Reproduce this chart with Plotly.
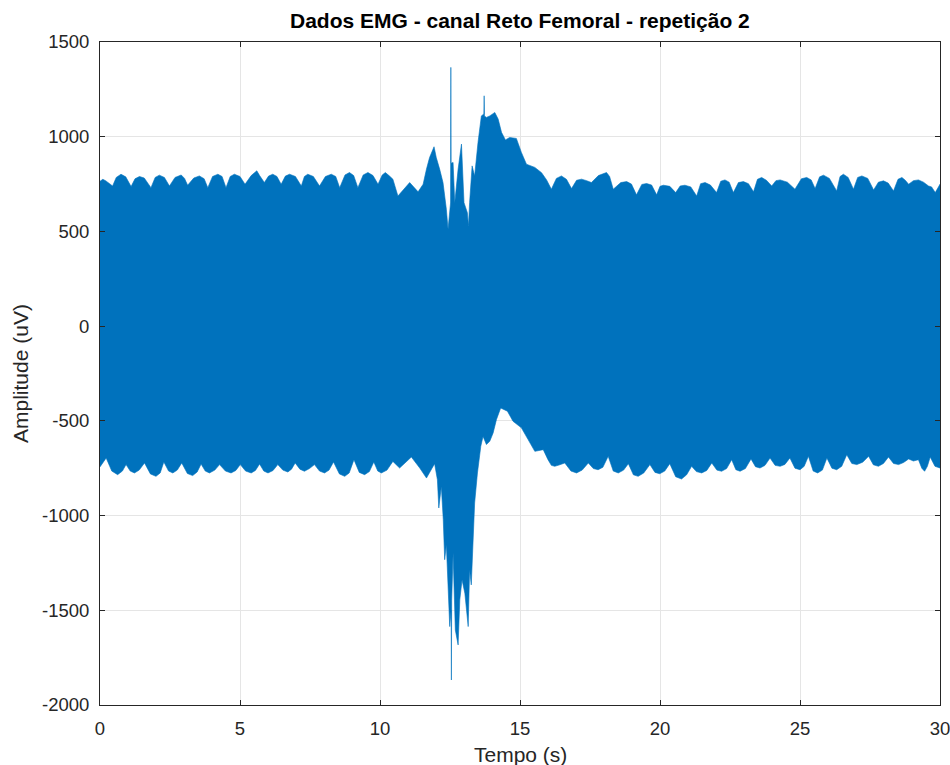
import plotly.graph_objects as go

# Upper envelope of the EMG trace (time in s, amplitude in uV)
upper_t = [0.00, 0.10, 0.20, 0.45, 0.58, 0.75, 0.92, 1.11, 1.25, 1.41, 1.58, 1.82, 1.97, 2.12, 2.30,
           2.48, 2.68, 2.90, 3.02, 3.13, 3.35, 3.55, 3.72, 3.85, 4.02, 4.21, 4.36, 4.50, 4.65, 4.80,
           5.00, 5.18, 5.40, 5.60, 5.70, 5.87, 6.02, 6.17, 6.32, 6.47, 6.62, 6.77, 6.98, 7.19, 7.30,
           7.42, 7.62, 7.84, 8.05, 8.26, 8.42, 8.56, 8.75, 8.91, 9.06, 9.21, 9.40, 9.57, 9.75, 9.93,
           10.08, 10.19, 10.32, 10.46, 10.64, 10.76, 11.06, 11.36, 11.54, 11.66, 11.77, 11.93, 12.01,
           12.13, 12.25, 12.37, 12.43, 12.52, 12.53, 12.54, 12.61, 12.67, 12.79, 12.91, 13.00, 13.12,
           13.16, 13.20, 13.29, 13.38, 13.50, 13.62, 13.71, 13.72, 13.73, 13.80, 13.92, 14.10, 14.22,
           14.34, 14.48, 14.63, 14.87, 15.05, 15.23, 15.53, 15.77, 15.95, 16.12, 16.30, 16.48, 16.66,
           16.84, 17.02, 17.20, 17.38, 17.55, 17.80, 18.09, 18.20, 18.33, 18.60, 18.81, 18.98, 19.16,
           19.35, 19.52, 19.70, 19.88, 20.00, 20.12, 20.35, 20.56, 20.72, 20.89, 21.10, 21.31, 21.45,
           21.61, 21.80, 22.02, 22.17, 22.32, 22.47, 22.62, 22.80, 22.98, 23.16, 23.34, 23.48, 23.63,
           23.80, 23.99, 24.14, 24.29, 24.55, 24.82, 25.05, 25.24, 25.40, 25.54, 25.70, 25.84, 26.05,
           26.31, 26.43, 26.55, 26.72, 26.91, 27.06, 27.21, 27.42, 27.63, 27.80, 27.98, 28.15, 28.34,
           28.50, 28.64, 28.76, 28.88, 29.05, 29.23, 29.41, 29.59, 29.70, 29.83, 30.00]
upper_v = [765, 775, 768, 740, 785, 802, 788, 737, 778, 790, 782, 731, 785, 797, 785,
           740, 785, 798, 780, 744, 782, 793, 778, 731, 790, 802, 790, 731, 790, 802,
           790, 749, 795, 820, 795, 758, 792, 802, 790, 749, 792, 802, 790, 740, 790,
           802, 790, 740, 790, 802, 790, 731, 798, 811, 795, 731, 798, 811, 795, 749,
           798, 811, 795, 776, 687, 709, 758, 709, 749, 829, 890, 947, 890,
           829, 758, 617, 511, 650, 1366, 860, 864, 652, 829, 961, 652, 599,
           529, 652, 846, 793, 970, 1110, 1120, 1216, 1110, 1102, 1110, 1128, 1093,
           1023, 983, 996, 991, 917, 855, 838, 810, 772, 723, 780, 793, 775,
           726, 770, 776, 768, 758, 795, 811, 790, 723, 758, 763, 750, 693,
           748, 753, 745, 693, 738, 744, 738, 705, 740, 744, 735, 687, 752,
           758, 745, 705, 765, 772, 760, 705, 758, 763, 752, 709, 775, 785,
           770, 740, 768, 772, 760, 723, 778, 785, 772, 726, 788, 797, 780,
           714, 790, 802, 785, 723, 785, 793, 780, 719, 760, 767, 755, 714,
           775, 785, 770, 749, 768, 772, 760, 740, 735, 705, 749]

# Lower envelope of the EMG trace
lower_t = [0.00, 0.22, 0.42, 0.63, 0.80, 0.93, 1.08, 1.23, 1.40, 1.59, 1.80, 2.00, 2.15, 2.28, 2.45,
           2.60, 2.76, 2.92, 3.12, 3.31, 3.47, 3.61, 3.76, 3.91, 4.10, 4.27, 4.48, 4.68, 4.85, 5.01,
           5.20, 5.40, 5.55, 5.70, 5.85, 6.00, 6.18, 6.35, 6.53, 6.71, 6.84, 6.97, 7.14, 7.30, 7.48,
           7.66, 7.84, 8.02, 8.18, 8.34, 8.55, 8.74, 8.90, 9.07, 9.26, 9.45, 9.62, 9.78, 9.92, 10.05,
           10.25, 10.46, 10.70, 11.12, 11.42, 11.66, 11.95, 12.05, 12.10, 12.19, 12.26, 12.31, 12.37,
           12.43, 12.49, 12.54, 12.55, 12.56, 12.61, 12.69, 12.79, 12.85, 12.93, 13.03, 13.15, 13.20,
           13.26, 13.33, 13.38, 13.48, 13.60, 13.68, 13.80, 13.92, 14.04, 14.16, 14.31, 14.55, 14.75,
           15.05, 15.29, 15.53, 15.83, 16.00, 16.12, 16.24, 16.42, 16.60, 16.82, 17.02, 17.22, 17.44,
           17.62, 17.79, 17.96, 18.15, 18.33, 18.51, 18.70, 18.87, 19.05, 19.22, 19.42, 19.64, 19.82,
           19.99, 20.17, 20.35, 20.56, 20.77, 20.95, 21.13, 21.30, 21.49, 21.67, 21.85, 22.03, 22.20,
           22.38, 22.56, 22.71, 22.86, 23.05, 23.25, 23.41, 23.57, 23.75, 23.93, 24.11, 24.29, 24.46,
           24.64, 24.82, 25.00, 25.15, 25.30, 25.47, 25.63, 25.80, 25.96, 26.14, 26.31, 26.49, 26.67,
           26.85, 27.03, 27.24, 27.45, 27.62, 27.80, 27.98, 28.16, 28.34, 28.52, 28.70, 28.88, 29.05,
           29.23, 29.35, 29.45, 29.55, 29.65, 29.82, 30.00]
lower_v = [-743, -696, -765, -784, -765, -731, -765, -775, -760, -722, -780, -793, -775, -717, -765,
           -775, -760, -722, -778, -789, -770, -728, -765, -775, -760, -731, -765, -775, -762, -731,
           -765, -775, -762, -728, -765, -775, -762, -731, -760, -770, -755, -722, -755, -766, -752,
           -731, -765, -775, -760, -717, -780, -793, -775, -705, -772, -784, -768, -717, -765, -775,
           -760, -714, -749, -691, -749, -802, -726, -811, -960, -846, -1022, -1233, -1154,
           -1375, -1586, -1500, -1868, -1450, -1198, -1604, -1683, -1445, -1339, -1410, -1586, -1286,
           -1366, -1092, -934, -775, -634, -582, -625, -608, -564, -493, -432, -449, -502,
           -537, -599, -661, -652, -705, -735, -740, -732, -722, -765, -775, -760, -722,
           -752, -758, -745, -687, -765, -775, -760, -726, -785, -793, -775, -731, -772,
           -779, -765, -726, -795, -807, -785, -740, -768, -775, -762, -722, -760, -766,
           -752, -705, -758, -766, -752, -701, -742, -749, -735, -696, -735, -740, -730,
           -696, -750, -758, -740, -687, -765, -775, -760, -696, -750, -758, -740, -679,
           -725, -731, -718, -687, -732, -740, -725, -691, -725, -731, -720, -701, -712,
           -705, -750, -766, -740, -691, -740, -749]

x_ticks = [0, 5, 10, 15, 20, 25, 30]
x_tick_text = ["0", "5", "10", "15", "20", "25", "30"]
y_ticks = [-2000, -1500, -1000, -500, 0, 500, 1000, 1500]
y_tick_text = ["-2000", "-1500", "-1000", "-500", "0", "500", "1000", "1500"]

blue = "#0072BD"
ink = "#262626"
font = "Liberation Sans, Arial, Helvetica, sans-serif"

# Closed band between the two envelopes
band_t = upper_t + lower_t[::-1]
band_v = upper_v + lower_v[::-1]

fig = go.Figure()
fig.add_trace(go.Scatter(
    x=band_t, y=band_v, mode="lines", fill="toself",
    fillcolor=blue, line=dict(color=blue, width=0.6),
    hoverinfo="skip", showlegend=False,
))

axis_common = dict(
    showline=True, linecolor=ink, linewidth=1, mirror="ticks",
    ticks="inside", ticklen=5, tickcolor=ink, tickwidth=1,
    showgrid=True, gridcolor="#e5e5e5", gridwidth=1,
    zeroline=False, automargin=False, ticklabeloverflow="allow",
    tickfont=dict(family=font, size=18.5, color=ink),
)

fig.update_layout(
    width=950, height=765,
    margin=dict(l=100, r=10, t=42, b=60),
    paper_bgcolor="white", plot_bgcolor="white",
    xaxis=dict(range=[0, 30], tickvals=x_ticks, ticktext=x_tick_text,
               ticklabelstandoff=7, **axis_common),
    yaxis=dict(range=[-2000, 1500], tickvals=y_ticks, ticktext=y_tick_text,
               ticklabelstandoff=6, **axis_common),
    font=dict(family=font, color=ink),
    annotations=[
        dict(text="<b>Dados EMG - canal Reto Femoral - repetição 2</b>",
             xref="paper", yref="paper", x=0.5, y=1, yshift=8,
             xanchor="center", yanchor="bottom", showarrow=False,
             font=dict(family=font, size=21, color="black")),
        dict(text="Tempo (s)", xref="paper", yref="paper", x=0.5, y=0,
             yshift=-36, xanchor="center", yanchor="top", showarrow=False,
             font=dict(family=font, size=21, color=ink)),
        dict(text="Amplitude (uV)", xref="paper", yref="paper", x=0, y=0.5,
             xshift=-66, xanchor="right", yanchor="middle", textangle=-90,
             showarrow=False, font=dict(family=font, size=21, color=ink)),
    ],
)

fig.write_html("out.html")
